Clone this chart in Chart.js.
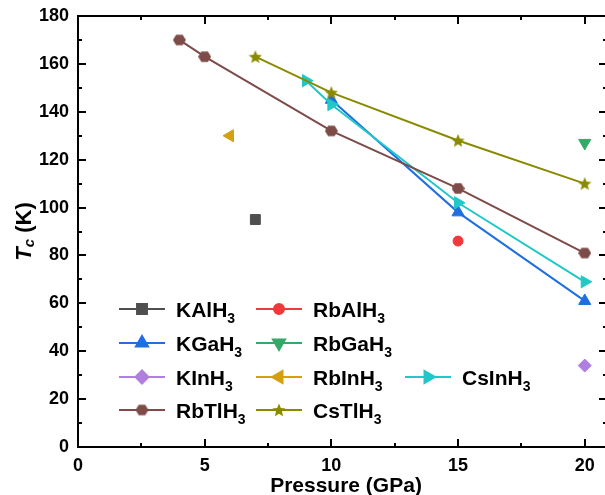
<!DOCTYPE html>
<html>
<head>
<meta charset="utf-8">
<script src="https://cdn.jsdelivr.net/npm/chart.js@4.4.1/dist/chart.umd.min.js"></script>
<style>
html,body{margin:0;padding:0;background:#fff;}
#wrap{width:605px;height:495px;}
</style>
</head>
<body>
<div id="wrap"><canvas id="chart" width="605" height="495"></canvas></div>
<script>
const FONT='"Liberation Sans", Arial, Helvetica, sans-serif';

// axis setup
const xMin=0, xMax=20.8, xStep=5;
const yMin=0, yMax=180, yStep=20;

// pressure (GPa) and Tc (K) for each hydride
const kAlH3P=[7],            kAlH3Tc=[95];
const rbAlH3P=[15],          rbAlH3Tc=[86];
const kGaH3P=[10,15,20],     kGaH3Tc=[145,98,61];
const rbGaH3P=[20],          rbGaH3Tc=[127];
const kInH3P=[20],           kInH3Tc=[34];
const rbInH3P=[6],           rbInH3Tc=[130];
const csInH3P=[9,10,15,20],  csInH3Tc=[153,143,102,69];
const rbTlH3P=[4,5,10,15,20],rbTlH3Tc=[170,163,132,108,81];
const csTlH3P=[7,10,15,20],  csTlH3Tc=[163,148,128,110];

function shapeImg(kind,color,size){
  const c=document.createElement('canvas');
  c.width=c.height=size;
  const g=c.getContext('2d');
  const r=size/2;
  g.fillStyle=color;
  g.beginPath();
  if(kind==='hex'){
    for(let i=0;i<6;i++){
      const a=Math.PI/3*i;
      g.lineTo(r+r*Math.cos(a), r+r*0.92*Math.sin(a));
    }
  }else{
    for(let i=0;i<10;i++){
      const a=-Math.PI/2+Math.PI/5*i;
      const rr=i%2 ? r*0.45 : r;
      g.lineTo(r+rr*Math.cos(a), r+0.6+rr*Math.sin(a));
    }
  }
  g.closePath();
  g.fill();
  return c;
}

const series=[
  {name:'KAlH',  p:kAlH3P,  tc:kAlH3Tc,  color:'#4f4f4f', style:'rect',     r:7,   rot:0},
  {name:'RbAlH', p:rbAlH3P, tc:rbAlH3Tc, color:'#f0393c', style:'circle',   r:5,   rot:0},
  {name:'KGaH',  p:kGaH3P,  tc:kGaH3Tc,  color:'#1f6fe0', style:'triangle', r:7,   rot:0},
  {name:'RbGaH', p:rbGaH3P, tc:rbGaH3Tc, color:'#36a868', style:'triangle', r:7,   rot:180},
  {name:'KInH',  p:kInH3P,  tc:kInH3Tc,  color:'#b07fe0', style:'rectRot',  r:6.5, rot:0},
  {name:'RbInH', p:rbInH3P, tc:rbInH3Tc, color:'#d4a010', style:'triangle', r:7,   rot:-90},
  {name:'CsInH', p:csInH3P, tc:csInH3Tc, color:'#20c8c8', style:'triangle', r:7,   rot:90},
  {name:'RbTlH', p:rbTlH3P, tc:rbTlH3Tc, color:'#7d4b48', style:shapeImg('hex','#7d4b48',13), r:6, rot:0},
  {name:'CsTlH', p:csTlH3P, tc:csTlH3Tc, color:'#8a8a00', style:shapeImg('star','#8a8a00',14), r:7, rot:0}
];

// legend slots: [series index, line start x, row centre y]
const legendSlots=[
  [0,119,309],[1,256,309],
  [2,119,343],[3,256,343],
  [4,119,377],[5,256,377],[6,405,377],
  [7,119,410],[8,256,410]
];

const frame={
  id:'frame',
  beforeDatasetsDraw(chart){
    const {ctx,chartArea:a,scales:{x,y}}=chart;
    ctx.save();
    ctx.strokeStyle='#000';
    ctx.lineWidth=2;
    // left, bottom, top (right edge sits past the canvas)
    ctx.beginPath();
    ctx.moveTo(a.right+2,a.top); ctx.lineTo(a.left,a.top); ctx.lineTo(a.left,a.bottom); ctx.lineTo(a.right+2,a.bottom);
    ctx.stroke();
    ctx.beginPath();
    for(let v=xMin; v<=xMax; v+=2.5){
      const px=Math.round(x.getPixelForValue(v));
      const L=v%5===0?8:4;
      ctx.moveTo(px,a.bottom); ctx.lineTo(px,a.bottom-L);
      ctx.moveTo(px,a.top); ctx.lineTo(px,a.top+L);
    }
    for(let v=yMin; v<=yMax; v+=10){
      const py=Math.round(y.getPixelForValue(v));
      const L=v%20===0?8:4;
      ctx.moveTo(a.left,py); ctx.lineTo(a.left+L,py);
      ctx.moveTo(a.right+2,py); ctx.lineTo(a.right+2-L,py);
    }
    ctx.stroke();
    ctx.restore();
  },
  afterDraw(chart){
    const {ctx,chartArea:a}=chart;
    ctx.save();
    ctx.fillStyle='#000';
    // x title
    ctx.font='bold 21px '+FONT;
    ctx.textAlign='center';
    ctx.textBaseline='alphabetic';
    ctx.fillText('Pressure (GPa)',346,492);
    // y title, rotated
    ctx.translate(31,(a.top+a.bottom)/2);
    ctx.rotate(-Math.PI/2);
    ctx.textAlign='left';
    const parts=[['italic bold 22px ','T',0],['italic bold 15px ','c',3],['bold 22px ',' (K)',0]];
    let w=0;
    parts.forEach(([f,t])=>{ ctx.font=f+FONT; w+=ctx.measureText(t).width; });
    let cx=-w/2;
    parts.forEach(([f,t,dy])=>{ ctx.font=f+FONT; ctx.fillText(t,cx,dy); cx+=ctx.measureText(t).width; });
    ctx.restore();

    // legend
    ctx.save();
    legendSlots.forEach(([i,x0,yc])=>{
      const s=series[i];
      ctx.strokeStyle=s.color;
      ctx.fillStyle=s.color;
      ctx.lineWidth=2;
      ctx.beginPath();
      ctx.moveTo(x0,yc); ctx.lineTo(x0+46,yc);
      ctx.stroke();
      Chart.helpers.drawPoint(ctx,{pointStyle:s.style,radius:s.r,rotation:s.rot,borderWidth:1},x0+23,yc);
      ctx.fillStyle='#000';
      ctx.textAlign='left';
      ctx.textBaseline='alphabetic';
      ctx.font='bold 21px '+FONT;
      const tx=x0+57;
      ctx.fillText(s.name,tx,yc+7.5);
      const tw=ctx.measureText(s.name).width;
      ctx.font='bold 14px '+FONT;
      ctx.fillText('3',tx+tw,yc+14);
    });
    ctx.restore();
  }
};

const datasets=series.map((s,i)=>({
  label:s.name+'3',
  data:s.p.map((p,k)=>({x:p,y:s.tc[k]})),
  showLine:true,
  borderColor:s.color,
  backgroundColor:s.color,
  borderWidth:2,
  pointStyle:s.style,
  pointRadius:s.r,
  pointHoverRadius:s.r,
  pointRotation:s.rot,
  pointBorderWidth:1,
  pointBackgroundColor:s.color,
  pointBorderColor:s.color,
  clip:false,
  order:-i
}));

new Chart(document.getElementById('chart'),{
  type:'scatter',
  data:{datasets},
  options:{
    responsive:false,
    animation:false,
    devicePixelRatio:1,
    layout:{autoPadding:false,padding:{top:16,right:0,bottom:0,left:0}},
    plugins:{legend:{display:false},tooltip:{enabled:false}},
    scales:{
      x:{
        type:'linear',min:xMin,max:xMax,
        grid:{display:false,drawTicks:false},
        border:{display:false},
        ticks:{stepSize:xStep,includeBounds:false,padding:8,color:'#000',font:{family:FONT,size:18,weight:'bold'},maxRotation:0},
        afterFit(scale){ scale.height=48; scale.paddingLeft=0; scale.paddingRight=0; }
      },
      y:{
        type:'linear',min:yMin,max:yMax,
        grid:{display:false,drawTicks:false},
        border:{display:false},
        ticks:{stepSize:yStep,padding:9,color:'#000',font:{family:FONT,size:18,weight:'bold'}},
        afterFit(scale){ scale.width=78; scale.paddingTop=0; scale.paddingBottom=0; }
      }
    }
  },
  plugins:[frame]
});
</script>
</body>
</html>
